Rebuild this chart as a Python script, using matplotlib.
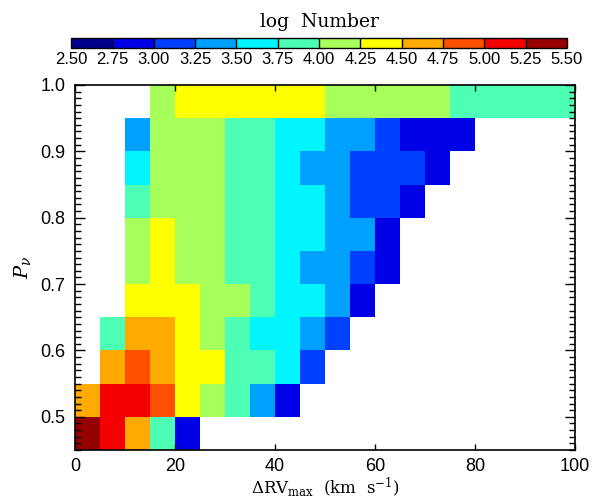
import numpy as np
import matplotlib
matplotlib.use("Agg")
import matplotlib.pyplot as plt
from matplotlib.colors import ListedColormap, BoundaryNorm
from matplotlib.ticker import MultipleLocator

plt.rcParams["mathtext.fontset"] = "dejavuserif"

# ---- data: log Number in bins of dRV_max (5 km/s) and P_nu (0.05) ----
x_edges = np.arange(0, 101, 5)
y_edges = np.round(np.arange(0.45, 1.001, 0.05), 2)
nan = np.nan
log_number = [
    [5.4, 5.1, 4.6, 3.9, 2.9] + [nan] * 15,                                    # 0.45-0.50
    [4.6, 5.1, 5.1, 4.9, 4.4, 4.1, 3.9, 3.4, 2.9] + [nan] * 11,                # 0.50-0.55
    [nan, 4.6, 4.9, 4.6, 4.4, 4.4, 3.9, 3.9, 3.6, 3.1] + [nan] * 10,           # 0.55-0.60
    [nan, 3.9, 4.6, 4.6, 4.4, 4.1, 3.9, 3.6, 3.6, 3.4, 3.1] + [nan] * 9,       # 0.60-0.65
    [nan, nan, 4.4, 4.4, 4.4, 4.1, 4.1, 3.9, 3.6, 3.6, 3.4, 2.9] + [nan] * 8,  # 0.65-0.70
    [nan, nan, 4.1, 4.4, 4.1, 4.1, 3.9, 3.9, 3.6, 3.4, 3.4, 3.1, 2.9] + [nan] * 7,
    [nan, nan, 4.1, 4.4, 4.1, 4.1, 3.9, 3.9, 3.6, 3.6, 3.4, 3.4, 2.9] + [nan] * 7,
    [nan, nan, 3.9, 4.1, 4.1, 4.1, 3.9, 3.9, 3.6, 3.6, 3.4, 3.1, 3.1, 2.9] + [nan] * 6,
    [nan, nan, 3.6, 4.1, 4.1, 4.1, 3.9, 3.9, 3.6, 3.4, 3.4, 3.1, 3.1, 3.1, 2.9] + [nan] * 5,
    [nan, nan, 3.4, 4.1, 4.1, 4.1, 3.9, 3.9, 3.6, 3.6, 3.4, 3.4, 3.1, 2.9, 2.9, 2.9] + [nan] * 4,
    [nan, nan, nan, 4.1, 4.4, 4.4, 4.4, 4.4, 4.4, 4.4, 4.1, 4.1, 4.1, 4.1, 4.1,
     3.9, 3.9, 3.9, 3.9, 3.9],                                                 # 0.95-1.00
]
levels = np.arange(2.5, 5.51, 0.25)
level_colors = ["#00008c", "#0000e6", "#0040ff", "#00a0ff", "#00f5ff", "#4cffb4",
                "#a6ff5a", "#ffff00", "#ffaa00", "#ff5000", "#f50000", "#960000"]

cmap = ListedColormap(level_colors)
norm = BoundaryNorm(levels, cmap.N)
Z = np.ma.masked_invalid(np.array(log_number))

fig = plt.figure(figsize=(6.06, 5.01), dpi=100)
ax = fig.add_axes([75 / 606, 51 / 501, 500 / 606, 365 / 501])
cax = fig.add_axes([71 / 606, 453 / 501, 496 / 606, 10 / 501])

mesh = ax.pcolormesh(x_edges, y_edges, Z, cmap=cmap, norm=norm, shading="flat")

ax.set_xlim(0, 100)
ax.set_ylim(0.45, 1.0)
ax.xaxis.set_major_locator(MultipleLocator(20))
ax.yaxis.set_major_locator(MultipleLocator(0.1))
ax.yaxis.set_minor_locator(MultipleLocator(0.01))
ax.yaxis.set_major_formatter(plt.FormatStrFormatter("%.1f"))
ax.tick_params(which="both", direction="in", top=True, right=True,
               labelsize=13, width=1)
ax.tick_params(axis="x", which="major", length=4.5, pad=6)
ax.tick_params(axis="y", which="major", length=7, pad=7)
ax.tick_params(axis="y", which="minor", length=4)
for lab in ax.get_xticklabels() + ax.get_yticklabels():
    lab.set_fontfamily("Liberation Sans")
for sp in ax.spines.values():
    sp.set_linewidth(1.2)

ax.set_xlabel(r"$\Delta$RV$_{\rm max}$  (km  s$^{-1}$)", family="DejaVu Serif",
              fontsize=12, labelpad=0)
ax.set_ylabel(r"$P_\nu$", fontsize=14, labelpad=5)

cb = fig.colorbar(mesh, cax=cax, orientation="horizontal", drawedges=True,
                  ticks=levels)
cb.outline.set_linewidth(1.0)
cb.dividers.set_linewidth(1.0)
cb.ax.tick_params(length=0, labelsize=12, pad=3)
cb.ax.set_xticklabels([f"{v:.2f}" for v in levels], family="Liberation Sans")
cb.ax.xaxis.set_label_position("top")
cb.set_label("log  Number", family="DejaVu Serif", fontsize=13.5, labelpad=8)

fig.savefig("out.png", dpi=100)
